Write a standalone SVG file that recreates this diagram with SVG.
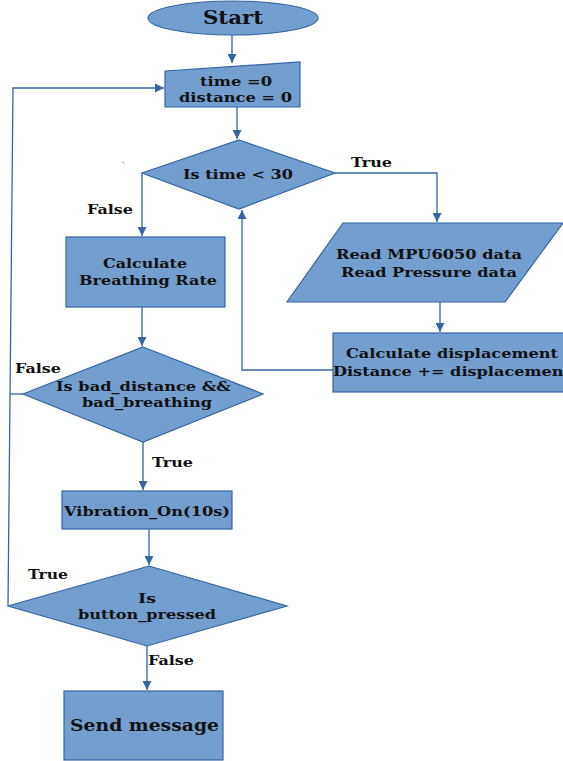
<svg xmlns="http://www.w3.org/2000/svg" width="563" height="761" viewBox="0 0 563 761">
<style>
.n{fill:#729fcf;stroke:#3465a4;stroke-width:1.2}
.t{font-family:"DejaVu Serif",serif;font-weight:bold;font-size:13px;fill:#111;text-anchor:middle}
.l{font-family:"DejaVu Serif",serif;font-weight:bold;font-size:13px;fill:#111}
.c{fill:none;stroke:#3465a4;stroke-width:1.3}
</style>
<defs>
<marker id="a" viewBox="0 0 10 10" refX="10" refY="5" markerWidth="9" markerHeight="9" markerUnits="userSpaceOnUse" orient="auto">
<path d="M0,0 L10,5 L0,10 z" fill="#3465a4"/>
</marker>
</defs>
<rect width="563" height="761" fill="#fff"/>
<g id="connectors">
<path class="c" d="M232,35 V63" marker-end="url(#a)"/>
<path class="c" d="M237,107 V139" marker-end="url(#a)"/>
<path class="c" d="M142,173 V236" marker-end="url(#a)"/>
<path class="c" d="M335,173 H437 V222" marker-end="url(#a)"/>
<path class="c" d="M440,302 V332" marker-end="url(#a)"/>
<path class="c" d="M333,370 H242 V210" marker-end="url(#a)"/>
<path class="c" d="M142,307 V346" marker-end="url(#a)"/>
<path class="c" d="M23,394 H10"/>
<path class="c" d="M8,605 L13,88 H164" marker-end="url(#a)"/>
<path class="c" d="M143,442 V490" marker-end="url(#a)"/>
<path class="c" d="M149,529 V565" marker-end="url(#a)"/>
<path class="c" d="M147,646 V690" marker-end="url(#a)"/>
<text class="l" x="87" y="214" textLength="46" lengthAdjust="spacingAndGlyphs">False</text>
<text class="l" x="351" y="167" textLength="41" lengthAdjust="spacingAndGlyphs">True</text>
<text class="l" x="15" y="373" textLength="46" lengthAdjust="spacingAndGlyphs">False</text>
<text class="l" x="152" y="467" textLength="41" lengthAdjust="spacingAndGlyphs">True</text>
<text class="l" x="28" y="579" textLength="40" lengthAdjust="spacingAndGlyphs">True</text>
<text class="l" x="148" y="665" textLength="46" lengthAdjust="spacingAndGlyphs">False</text>
<text class="l" x="122" y="163" style="font-weight:normal;font-size:8px">.</text>
</g>
<g id="start">
<ellipse class="n" cx="233" cy="18" rx="85" ry="17"/>
<text class="t" x="233" y="24" style="font-size:19px" textLength="60" lengthAdjust="spacingAndGlyphs">Start</text>
</g>
<g id="init">
<path class="n" d="M165,71 L300,62 V107 H165 z"/>
<text class="t" x="236" y="86" textLength="72" lengthAdjust="spacingAndGlyphs">time =0</text>
<text class="t" x="235.5" y="102" textLength="113" lengthAdjust="spacingAndGlyphs">distance = 0</text>
</g>
<g id="time-check">
<path class="n" d="M239,140 L335,173 L239,209 L142,173 z"/>
<text class="t" x="238" y="179" textLength="110" lengthAdjust="spacingAndGlyphs">Is time &lt; 30</text>
</g>
<g id="breathing">
<rect class="n" x="66" y="237" width="159" height="70"/>
<text class="t" x="145" y="268" textLength="84" lengthAdjust="spacingAndGlyphs">Calculate</text>
<text class="t" x="148" y="285" textLength="138" lengthAdjust="spacingAndGlyphs">Breathing Rate</text>
</g>
<g id="read">
<path class="n" d="M343,223 H563 L505,302 H287 z"/>
<text class="t" x="429" y="259" textLength="186" lengthAdjust="spacingAndGlyphs">Read MPU6050 data</text>
<text class="t" x="429" y="277" textLength="176" lengthAdjust="spacingAndGlyphs">Read Pressure data</text>
</g>
<g id="displacement">
<rect class="n" x="333" y="333" width="240" height="59"/>
<text class="t" x="452" y="358" textLength="212" lengthAdjust="spacingAndGlyphs">Calculate displacement</text>
<text class="t" x="452" y="376" textLength="238" lengthAdjust="spacingAndGlyphs">Distance += displacement</text>
</g>
<g id="bad-check">
<path class="n" d="M143,347 L263,394 L143,442 L23,394 z"/>
<text class="t" x="143.5" y="391" textLength="175" lengthAdjust="spacingAndGlyphs">Is bad_distance &amp;&amp;</text>
<text class="t" x="147" y="407" textLength="130" lengthAdjust="spacingAndGlyphs">bad_breathing</text>
</g>
<g id="vibration">
<rect class="n" x="62" y="491" width="170" height="38"/>
<text class="t" x="147" y="516" textLength="166" lengthAdjust="spacingAndGlyphs">Vibration_On(10s)</text>
</g>
<g id="button-check">
<path class="n" d="M149,566 L287,606 L147,646 L8,606 z"/>
<text class="t" x="147" y="603" textLength="18" lengthAdjust="spacingAndGlyphs">Is</text>
<text class="t" x="147" y="619" textLength="138" lengthAdjust="spacingAndGlyphs">button_pressed</text>
</g>
<g id="send">
<rect class="n" x="64" y="691" width="159" height="69"/>
<text class="t" x="144.5" y="731" style="font-size:17px" textLength="149" lengthAdjust="spacingAndGlyphs">Send message</text>
</g>
</svg>
